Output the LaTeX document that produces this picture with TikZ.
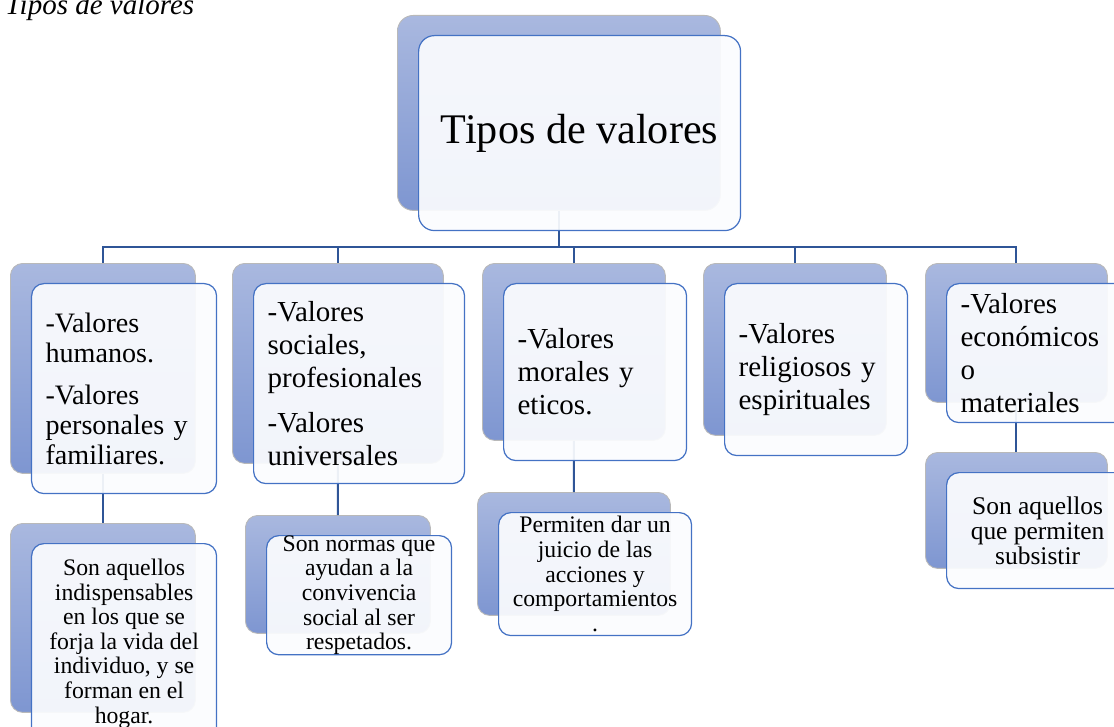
\documentclass[tikz,border=0pt]{standalone}
\usepackage{fontspec}
\setmainfont{Liberation Serif}
\usetikzlibrary{positioning}

\definecolor{backtop}{HTML}{A9B8DF}
\definecolor{backbot}{HTML}{7E96D1}
\definecolor{frameblue}{HTML}{4472C4}
\definecolor{frontfill}{HTML}{FBFCFE}
\definecolor{linkblue}{HTML}{2F5597}

\begin{document}
\begin{tikzpicture}[x=0.02cm,y=-0.02cm,
   back/.style={draw=gray!55,line width=0.5pt,rounded corners=7pt,top color=backtop,bottom color=backbot,anchor=north west,inner sep=0pt},
   front/.style={draw=frameblue,line width=0.7pt,rounded corners=7pt,fill=frontfill,fill opacity=0.93,text opacity=1,anchor=north west,xshift=0.42cm,yshift=-0.4cm,inner sep=0pt},
   head/.style={front,font=\fontsize{16.5}{18.8}\selectfont,align=left,inner xsep=0.28cm},
   leaf/.style={front,font=\fontsize{13.5}{14}\selectfont,align=center},
   link/.style={draw=linkblue,line width=1.1pt}]
   \useasboundingbox (0,0) rectangle (1114,726);
   \node[anchor=base west,font=\fontsize{16.5}{18}\selectfont\itshape] (caption) at (-1,15) {Tipos de valores};
   % cajas de fondo
   \node[back,rounded corners=9pt,minimum width=6.46cm,minimum height=3.9cm] (tipos-b) at (397,15) {};
   \node[back,minimum width=3.7cm,minimum height=4.2cm] (c1-b) at (10,263) {};
   \node[back,minimum width=4.22cm,minimum height=4.0cm] (c2-b) at (232,263) {};
   \node[back,minimum width=3.66cm,minimum height=3.54cm] (c3-b) at (482,263) {};
   \node[back,minimum width=3.66cm,minimum height=3.44cm] (c4-b) at (703,263) {};
   \node[back,minimum width=3.64cm,minimum height=2.78cm] (c5-b) at (925,263) {};
   \node[back,minimum width=3.7cm,minimum height=3.78cm] (d1-b) at (10,523) {};
   \node[back,minimum width=3.7cm,minimum height=2.36cm] (d2-b) at (245,515) {};
   \node[back,minimum width=3.86cm,minimum height=2.46cm] (d3-b) at (477,492) {};
   \node[back,minimum width=3.64cm,minimum height=2.32cm] (d5-b) at (925,452) {};
   % conectores
   \coordinate (bus) at (0,247);
   \draw[link] (tipos-b.south) -- (tipos-b.south |- bus);
   \draw[link,line cap=rect] (c1-b.north |- bus) -- (c5-b.north |- bus);
   \foreach \c in {c1,c2,c3,c4,c5}
      \draw[link] (\c-b.north) -- (\c-b.north |- bus);
   \draw[link] (c1-b.south) -- (d1-b.north);
   \draw[link] (c2-b.south) -- (d2-b.north);
   \draw[link] (c3-b.south) -- (d3-b.north);
   \draw[link] (c5-b.south) -- (d5-b.north);
   % cajas delanteras
   \node[front,rounded corners=9pt,minimum width=6.44cm,minimum height=3.9cm,font=\fontsize{24}{28}\selectfont] (tipos) at (tipos-b.north west) {Tipos de valores};
   \node[head,text width=3.14cm,minimum height=4.2cm,font=\fontsize{16}{17}\selectfont] (c1) at (c1-b.north west) {-Valores\\humanos.\\[7pt]-Valores\\personales y\\familiares.};
   \node[head,text width=3.66cm,minimum height=4.0cm] (c2) at (c2-b.north west) {-Valores\\sociales,\\profesionales\\[7pt]-Valores\\universales};
   \node[head,text width=3.1cm,minimum height=3.54cm] (c3) at (c3-b.north west) {-Valores\\morales y\\eticos.};
   \node[head,text width=3.1cm,minimum height=3.44cm] (c4) at (c4-b.north west) {-Valores\\religiosos y\\espirituales};
   \node[head,text width=3.08cm,minimum height=2.78cm] (c5) at (c5-b.north west) {-Valores\\económicos\\o\\materiales};
   \node[leaf,minimum width=3.7cm,minimum height=4.0cm] (d1) at (d1-b.north west) {Son aquellos\\indispensables\\en los que se\\forja la vida del\\individuo, y se\\forman en el\\hogar.};
   \node[leaf,minimum width=3.7cm,minimum height=2.36cm] (d2) at (d2-b.north west) {Son normas que\\ayudan a la\\convivencia\\social al ser\\respetados.};
   \node[leaf,minimum width=3.86cm,minimum height=2.46cm] (d3) at (d3-b.north west) {Permiten dar un\\juicio de las\\acciones y\\comportamientos\\.};
   \node[leaf,minimum width=3.64cm,minimum height=2.32cm,font=\fontsize{14.5}{14.2}\selectfont] (d5) at (d5-b.north west) {Son aquellos\\que permiten\\subsistir};
\end{tikzpicture}
\end{document}
